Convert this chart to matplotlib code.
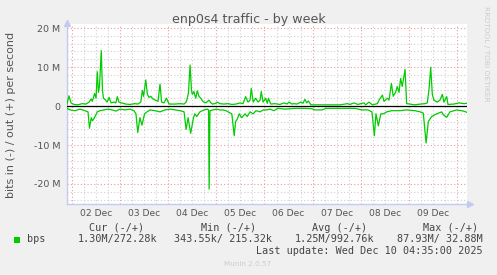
import matplotlib
matplotlib.use('Agg')
import matplotlib.pyplot as plt
from matplotlib.ticker import MultipleLocator, FixedLocator, NullFormatter, FuncFormatter
from matplotlib.patches import Rectangle

# ---------------- data (hours since 02 Dec 00:00, Mbit/s) ----------------
out_hours = [-2.5, -1.5, -0.5, 1.0, 3.0, 5.0, 7.0, 8.5, 9.5, 10.1, 11.3, 12.0, 12.6, 13.2, 13.7,
             14.6, 15.2, 15.7, 16.8, 17.5, 18.5, 19.5, 20.9, 21.9, 22.6, 23.4, 24.6, 26.8, 28.9,
             31.4, 32.9, 34.3, 35.1, 35.7, 36.8, 37.6, 38.4, 39.3, 40.4, 41.7, 42.9, 43.9, 44.7,
             45.9, 47.1, 48.4, 51.4, 53.9, 55.9, 56.9, 57.5, 58.1, 58.9, 59.6, 60.0, 60.8, 61.7,
             62.5, 63.3, 64.2, 65.3, 65.8, 66.8, 68.3, 69.3, 70.0, 71.3, 72.5, 73.8, 75.8, 77.8,
             79.8, 81.8, 83.8, 85.3, 86.6, 87.8, 88.8, 89.4, 90.4, 91.6, 92.8, 93.8, 94.4, 95.3,
             96.6, 97.4, 98.0, 99.1, 101.2, 103.7, 105.7, 107.2, 108.2, 109.7, 110.7, 112.2,
             114.1, 115.2, 116.1, 117.1, 117.9, 119.1, 123.7, 128.7, 133.7, 137.3, 138.7, 140.6,
             142.6, 145.6, 146.5, 148.1, 149.8, 152.3, 153.1, 154.8, 155.6, 157.3, 158.1, 159.3,
             160.2, 161.4, 162.2, 163.1, 163.9, 164.7, 165.2, 166.1, 166.9, 168.6, 170.6, 173.9,
             176.1, 177.2, 178.1, 178.9, 179.7, 180.5, 182.2, 183.5, 184.7, 185.5, 186.9, 187.5,
             190.5, 193.0, 195.5, 196.8]
out_mbps = [0.5, 2.6, 0.8, 0.4, 0.3, 0.6, 0.5, 1.0, 1.8, 1.2, 3.2, 2.0, 8.8, 3.5, 5.0,
            14.2, 4.0, 2.0, 1.5, 1.0, 2.2, 0.8, 1.0, 0.8, 2.4, 1.0, 0.8, 0.5, 0.4,
            0.6, 0.5, 1.0, 4.0, 2.5, 6.7, 3.0, 2.2, 2.5, 1.8, 1.5, 1.2, 5.6, 1.0,
            0.8, 2.0, 0.5, 0.5, 0.6, 0.5, 1.0, 2.0, 3.5, 10.5, 4.0, 3.0, 3.7, 2.0,
            3.9, 2.5, 2.0, 1.2, 1.0, 0.8, 1.5, 0.8, 0.5, 0.6, 1.0, 0.6, 0.5, 0.6,
            0.4, 0.5, 0.8, 0.6, 2.4, 1.0, 1.5, 4.5, 1.0, 2.0, 1.0, 1.5, 3.7, 1.0,
            2.0, 0.7, 2.0, 0.5, 0.6, 0.4, 0.8, 0.5, 1.0, 0.5, 0.6, 0.5,
            1.0, 0.7, 1.7, 0.8, 1.3, 0.3, 0.3, 0.3, 0.3, 0.6, 0.4, 0.8,
            0.4, 0.8, 0.3, 1.0, 0.3, 0.6, 1.5, 2.8, 1.2, 2.0, 1.5, 5.8,
            2.5, 3.5, 5.0, 3.5, 7.1, 5.0, 6.5, 9.4, 0.6, 0.5, 0.3, 0.5,
            0.6, 0.8, 4.5, 9.9, 3.0, 1.5, 1.0, 1.5, 3.0, 1.0, 2.4, 0.4,
            0.5, 0.8, 0.6, 0.7]

in_hours = [-2.5, -1.0, 1.5, 4.0, 6.5, 8.0, 8.7, 9.6, 10.2, 11.0, 11.7, 12.6, 14.0, 16.0, 18.0,
            20.0, 21.9, 23.9, 26.4, 28.9, 30.9, 31.9, 32.8, 33.9, 34.9, 36.2, 37.4, 38.9, 41.4,
            43.9, 46.4, 48.9, 51.4, 53.9, 55.9, 56.9, 57.9, 59.2, 59.9, 60.6, 61.3, 62.2, 63.8,
            65.8, 67.6, 68.1, 68.4, 68.8, 70.3, 72.2, 73.8, 75.3, 76.8, 77.8, 79.7, 80.9, 81.6,
            82.4, 83.4, 84.6, 86.3, 87.4, 88.8, 90.3, 91.8, 93.8, 95.3, 97.1, 98.8, 100.7, 102.7,
            106.2, 111.2, 116.2, 119.7, 121.2, 124.7, 126.7, 133.7, 141.1, 144.6, 147.6, 149.6,
            150.8, 151.6, 152.8, 154.0, 155.3, 157.0, 159.5, 163.6, 166.9, 171.1, 173.6, 175.2,
            176.6, 177.7, 179.4, 181.9, 184.4, 185.2, 186.9, 188.5, 191.9, 195.2, 196.8]
in_mbps = [0.6, 1.0, 1.2, 0.8, 1.2, 1.5, 5.7, 3.0, 3.8, 3.2, 2.5, 1.5, 1.2, 1.0, 0.8,
           1.0, 1.3, 0.8, 1.0, 0.8, 1.2, 2.0, 6.8, 3.0, 4.9, 2.0, 1.5, 1.0, 1.2,
           1.5, 1.0, 0.8, 1.0, 1.2, 1.5, 6.0, 3.0, 7.0, 5.0, 3.0, 2.0, 2.7, 1.5,
           1.0, 0.8, 1.0, 21.3, 1.2, 1.0, 0.8, 1.0, 1.0, 1.2, 1.5, 2.0, 7.6, 4.0,
           3.4, 2.0, 3.0, 2.0, 2.7, 1.5, 2.0, 1.2, 1.5, 1.0, 1.0, 0.8, 1.2, 0.6,
           0.8, 0.6, 0.6, 0.7, 1.0, 1.0, 0.6, 0.6, 0.6, 1.0, 1.0, 1.5,
           7.6, 2.0, 5.1, 2.0, 2.0, 1.5, 1.2, 1.2, 1.0, 1.2, 1.5, 1.8,
           9.5, 4.0, 2.7, 2.0, 1.5, 2.3, 2.9, 1.5, 1.0, 1.3, 1.6]

day_labels = ["02 Dec", "03 Dec", "04 Dec", "05 Dec", "06 Dec", "07 Dec", "08 Dec", "09 Dec"]
ytick_values = [-20, -10, 0, 10, 20]
ytick_labels = ["-20 M", "-10 M", "0", "10 M", "20 M"]

col_headers = ["Cur (-/+)", "Min (-/+)", "Avg (-/+)", "Max (-/+)"]
col_values = ["1.30M/272.28k", "343.55k/ 215.32k", "1.25M/992.76k", "87.93M/ 32.88M"]
series_name = "bps"

# ---------------- figure ----------------
W, H = 497, 275
fig = plt.figure(figsize=(W / 100, H / 100), dpi=100, facecolor='#F0F0F0')


def fx(x):
    return x / W


def fy(y):
    return 1 - y / H


GREEN = '#00CC00'
AXCOL = '#C5CAF0'
TXT = '#444444'

ax = fig.add_axes([fx(67), fy(204), 400 / W, 180 / H])
ax.set_facecolor('white')
ax.set_xlim(-2.49, 197.0)
ax.set_ylim(-25.13, 21.03)

# x grid: midnight (major, red), every 6h (minor, gray); labels at noon
ax.xaxis.set_major_locator(MultipleLocator(24))
ax.xaxis.set_minor_locator(MultipleLocator(6))
ax.xaxis.set_major_formatter(NullFormatter())


def xfmt(v, pos):
    k = (v - 12) / 24
    if abs(k - round(k)) < 1e-6 and 0 <= round(k) < len(day_labels):
        return day_labels[int(round(k))]
    return ''


ax.xaxis.set_minor_formatter(FuncFormatter(xfmt))

ax.yaxis.set_major_locator(FixedLocator(ytick_values))
ax.set_yticklabels(ytick_labels)
ax.yaxis.set_minor_locator(MultipleLocator(2))

ax.grid(which='major', color='#EE9A9A', linestyle=(0, (1, 2)), linewidth=0.8)
ax.grid(which='minor', color='#CFCFCF', linestyle=(0, (1, 2)), linewidth=0.8)
ax.set_axisbelow(True)

ax.tick_params(axis='both', which='both', length=0)
ax.tick_params(axis='y', which='major', labelsize=6.8, labelcolor='#555555', pad=5)
ax.tick_params(axis='x', which='minor', labelsize=6.6, labelcolor='#555555', pad=3.5)

for s in ['top', 'right']:
    ax.spines[s].set_visible(False)
for s in ['left', 'bottom']:
    ax.spines[s].set_color(AXCOL)
    ax.spines[s].set_linewidth(1.0)

ax.plot([0], [1.005], marker='^', color=AXCOL, ms=4.5, transform=ax.transAxes, clip_on=False)
ax.plot([1.0075], [0], marker='>', color=AXCOL, ms=4.5, transform=ax.transAxes, clip_on=False)

# data
ax.plot(out_hours, out_mbps, color=GREEN, lw=0.9, zorder=3)
ax.plot(in_hours, [-v for v in in_mbps], color=GREEN, lw=0.9, zorder=3)
ax.axhline(0, color='black', lw=0.9, zorder=4)

# ---------------- texts ----------------
fig.text(fx(248.5), fy(20), "enp0s4 traffic - by week", ha='center', va='center',
         fontsize=9.1, color='#555555')
fig.text(fx(11), fy(115), "bits in (-) / out (+) per second", rotation=90,
         ha='center', va='center', fontsize=8.0, color='#555555')
fig.text(fx(486), fy(53.5), "RRDTOOL / TOBI OETIKER", rotation=270,
         ha='center', va='center', fontsize=5.4, color='#CCCCCC')

mono = 'DejaVu Sans Mono'
hdr_x = [89.3, 200.7, 312, 422.7]
val_x = [78, 174, 295, 396.7]
for t, x in zip(col_headers, hdr_x):
    fig.text(fx(x), fy(227.7), t, ha='left', va='center', fontsize=7.3, family=mono, color=TXT)
for t, x in zip(col_values, val_x):
    fig.text(fx(x), fy(239.3), t, ha='left', va='center', fontsize=7.3, family=mono, color=TXT)
fig.text(fx(26.7), fy(239.3), series_name, ha='left', va='center', fontsize=7.3, family=mono, color=TXT)
fig.patches.append(Rectangle((fx(14), fy(242.5)), 6 / W, 6 / H, transform=fig.transFigure,
                             facecolor=GREEN, edgecolor='none'))
fig.text(fx(482.7), fy(251), "Last update: Wed Dec 10 04:35:00 2025", ha='right', va='center',
         fontsize=7.3, family=mono, color=TXT)
fig.text(fx(248), fy(264), "Munin 2.0.57", ha='center', va='center', fontsize=5.2, color='#CCCCCC')

fig.savefig('out.png', dpi=100, facecolor=fig.get_facecolor())
